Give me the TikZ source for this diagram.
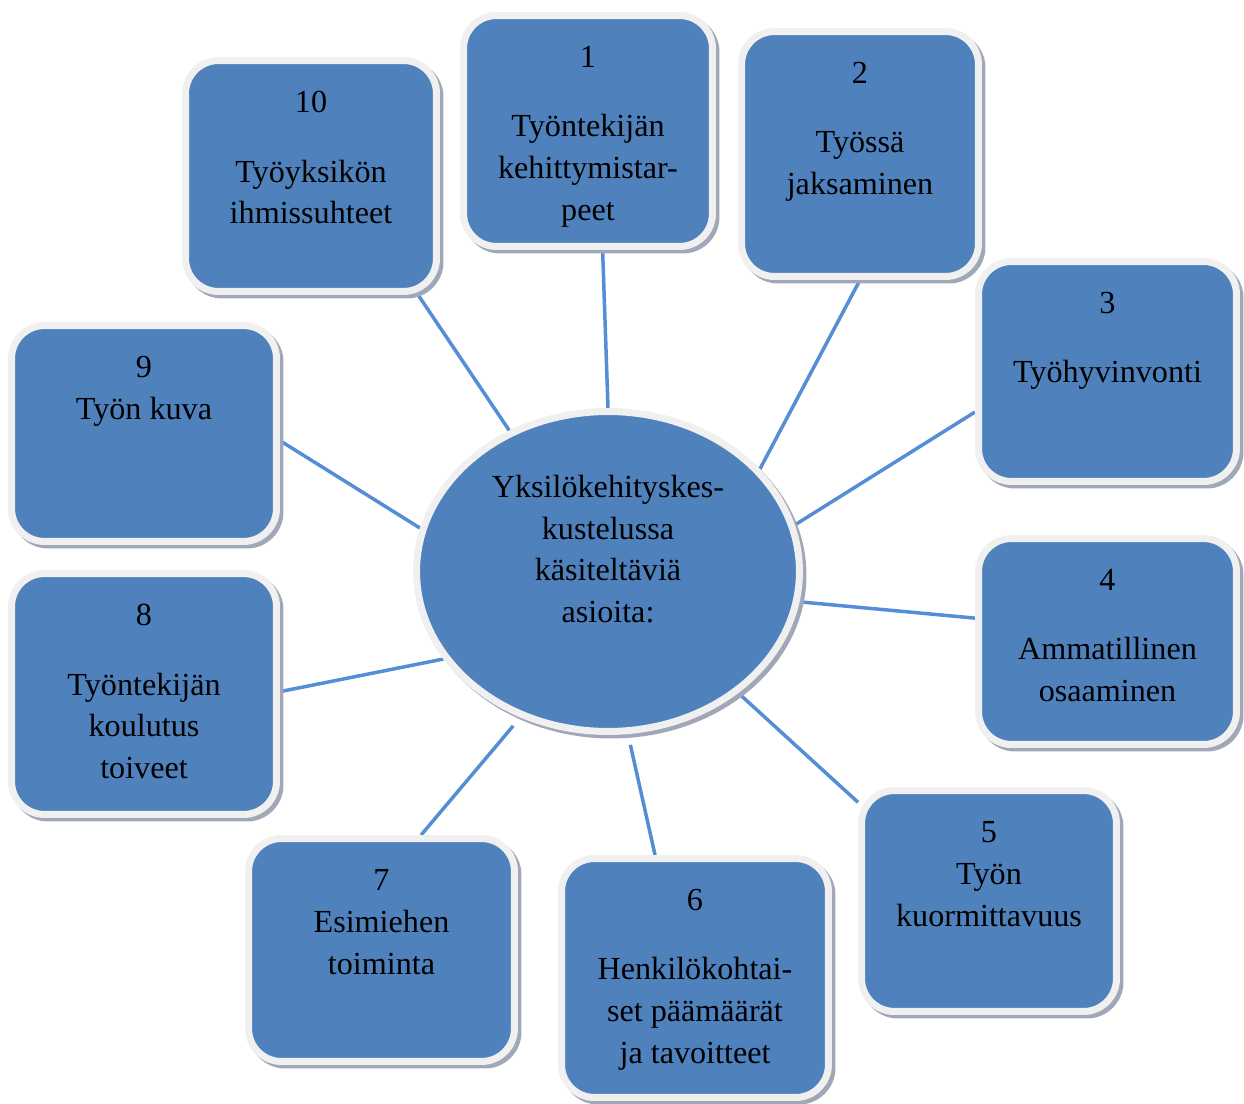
\documentclass[tikz,border=0pt]{standalone}
\usepackage{fontspec}
\setmainfont{Liberation Serif}
\usepackage{tikz}
\usetikzlibrary{shapes.geometric,shadows,backgrounds}
\definecolor{KBlue}{HTML}{4F81BD}
\definecolor{KRim}{HTML}{F0F0F0}
\definecolor{KShade}{HTML}{A0A8B8}
\definecolor{KLine}{HTML}{558ED5}
\newcommand{\numgap}{0.55cm}
\tikzset{
 topicbox/.style={draw=KRim,fill=KBlue,line width=0.14cm,rounded corners=0.66cm,
  drop shadow={shadow xshift=0.07cm,shadow yshift=-0.07cm,draw=KShade,fill=KShade,line width=0.14cm,opacity=1}},
 hubshape/.style={ellipse,draw=KRim,fill=KBlue,line width=0.14cm,
  drop shadow={shadow xshift=0.07cm,shadow yshift=-0.07cm,draw=KShade,fill=KShade,line width=0.14cm,opacity=1}},
 topictext/.style={anchor=north,align=center,inner sep=0pt,yshift=-0.68cm,font=\fontsize{18.3}{23.8}\selectfont},
 link/.style={draw=KLine,line width=0.07cm},
}
\begin{document}
\begin{tikzpicture}[x=0.02cm,y=-0.02cm]
\useasboundingbox (0,0) rectangle (1244,1104);
% central topic
\node[hubshape,minimum width=7.66cm,minimum height=6.4cm] (c) at (608,571.5) {};
\node[align=center,inner sep=0pt,yshift=0.45cm,font=\fontsize{18.3}{23.8}\selectfont] (ct) at (c) {Yksilökehityskes-\\kustelussa\\käsiteltäviä\\asioita:};
% topic boxes
\node[topicbox,minimum width=4.98cm,minimum height=4.62cm] (b1) at (588,131) {};
\node[topictext] (t1) at (b1.north) {1\\[\numgap]Työntekijän\\kehittymistar-\\peet};
\node[topicbox,minimum width=4.74cm,minimum height=4.9cm] (b2) at (860,154) {};
\node[topictext] (t2) at (b2.north) {2\\[\numgap]Työssä\\jaksaminen};
\node[topicbox,minimum width=5.16cm,minimum height=4.4cm] (b3) at (1107.5,371.5) {};
\node[topictext] (t3) at (b3.north) {3\\[\numgap]Työhyvinvonti};
\node[topicbox,minimum width=5.16cm,minimum height=4.12cm] (b4) at (1107.5,641.5) {};
\node[topictext] (t4) at (b4.north) {4\\[\numgap]Ammatillinen\\osaaminen};
\node[topicbox,minimum width=5.1cm,minimum height=4.42cm] (b5) at (989,901) {};
\node[topictext] (t5) at (b5.north) {5\\Työn\\kuormittavuus};
\node[topicbox,minimum width=5.34cm,minimum height=4.78cm] (b6) at (695,978) {};
\node[topictext] (t6) at (b6.north) {6\\[\numgap]Henkilökohtai-\\set päämäärät\\ja tavoitteet};
\node[topicbox,minimum width=5.32cm,minimum height=4.46cm] (b7) at (381.5,950) {};
\node[topictext] (t7) at (b7.north) {7\\Esimiehen\\toiminta};
\node[topicbox,minimum width=5.3cm,minimum height=4.82cm] (b8) at (144,694) {};
\node[topictext] (t8) at (b8.north) {8\\[\numgap]Työntekijän\\koulutus\\toiveet};
\node[topicbox,minimum width=5.3cm,minimum height=4.32cm] (b9) at (144,433.5) {};
\node[topictext] (t9) at (b9.north) {9\\Työn kuva};
\node[topicbox,minimum width=5.02cm,minimum height=4.62cm] (b10) at (311,176) {};
\node[topictext] (t10) at (b10.north) {10\\[\numgap]Työyksikön\\ihmissuhteet};
% connectors behind the shapes
\begin{scope}[on background layer]
\draw[link] (c.90) -- (b1.-83);
\draw[link] (c.34) -- (b2.-90);
\draw[link] (c.14) -- (b3.197);
\draw[link] (c.-9) -- (b4.170);
\draw[link] (c.-43) -- (b5.143);
\draw[link,shorten <=0.22cm] (c.-83) -- (b6.108);
\draw[link,shorten <=0.22cm] (c.-121) -- (b7.71);
\draw[link] (c.208) -- (b8.1);
\draw[link] (c.167) -- (b9.-3);
\draw[link] (c.125) -- (b10.-48);
\end{scope}
\end{tikzpicture}
\end{document}
